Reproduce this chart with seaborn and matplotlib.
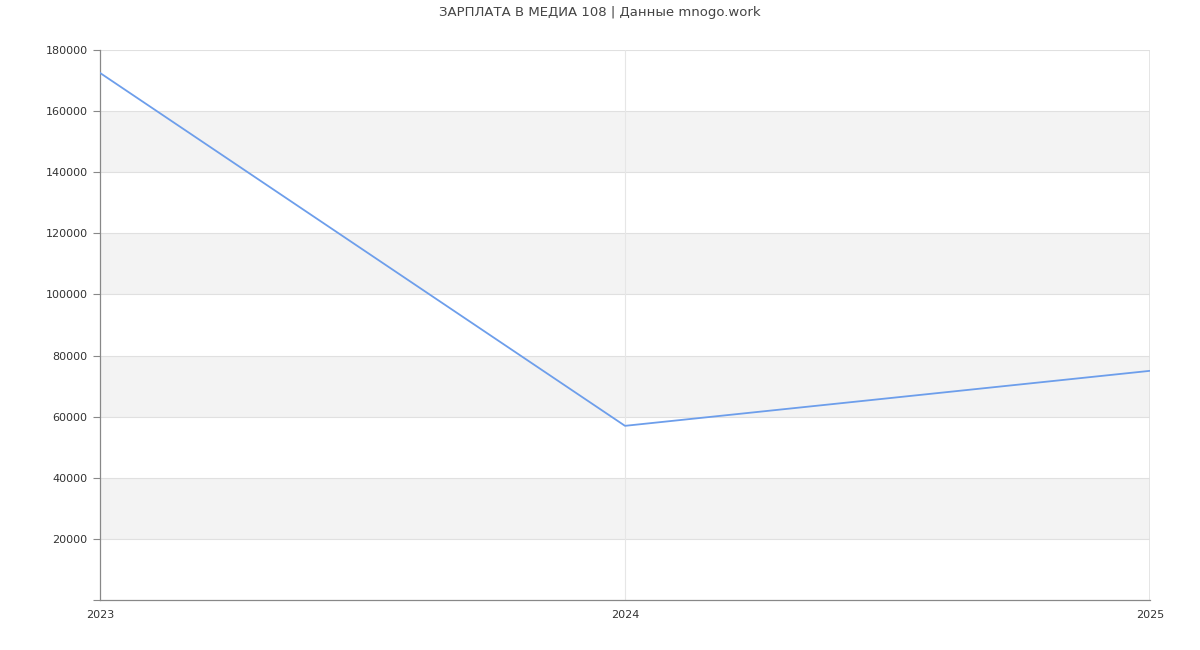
import pandas as pd
import matplotlib
matplotlib.use('Agg')
import matplotlib.pyplot as plt
import seaborn as sns

# data
years = [2023, 2024, 2025]
salary = [172500, 57000, 75000]
title = 'ЗАРПЛАТА В МЕДИА 108 | Данные mnogo.work'

df = pd.DataFrame({'year': years, 'salary': salary})

sns.set_style('white')
plt.rcParams['font.family'] = ['DejaVu Sans']

fig = plt.figure(figsize=(12, 6.5), dpi=100)
ax = fig.add_axes([100 / 1200, 50 / 650, 1050 / 1200, 550 / 650])

# alternating bands
for lo in range(20000, 180000, 40000):
    ax.axhspan(lo, lo + 20000, color='#f3f3f3', zorder=0, lw=0)
for y in range(20000, 200000, 20000):
    ax.axhline(y, color='#e0e0e0', lw=0.8, zorder=1)
ax.axvline(2024, color='#e6e6e6', lw=0.8, zorder=1)
ax.axvline(2025, color='#e0e0e0', lw=1.2, zorder=1)

sns.lineplot(data=df, x='year', y='salary', ax=ax, color='#6d9eeb', lw=1.3, zorder=3)

ax.set_xlim(2023, 2025)
ax.set_ylim(0, 180000)
ax.set_xticks(years)
ax.set_xticklabels([str(y) for y in years])
ax.set_yticks(range(0, 200000, 20000))
ax.set_yticklabels([''] + [str(v) for v in range(20000, 200000, 20000)])
ax.tick_params(axis='y', left=True, length=5, width=0.8, color='#888888', labelsize=8, labelcolor='#333333', pad=4)
ax.tick_params(axis='x', bottom=False, length=0, labelsize=8, labelcolor='#333333', pad=7)
ax.set_xlabel('')
ax.set_ylabel('')

for s in ['top', 'right']:
    ax.spines[s].set_visible(False)
ax.spines['left'].set_color('#888888')
ax.spines['bottom'].set_color('#888888')
ax.spines['left'].set_linewidth(0.9)
ax.spines['bottom'].set_linewidth(0.9)

fig.text(0.5, 1 - 12.5 / 650, title, ha='center', va='center', fontsize=9.5, color='#444444')

fig.savefig('out.png', dpi=100)
